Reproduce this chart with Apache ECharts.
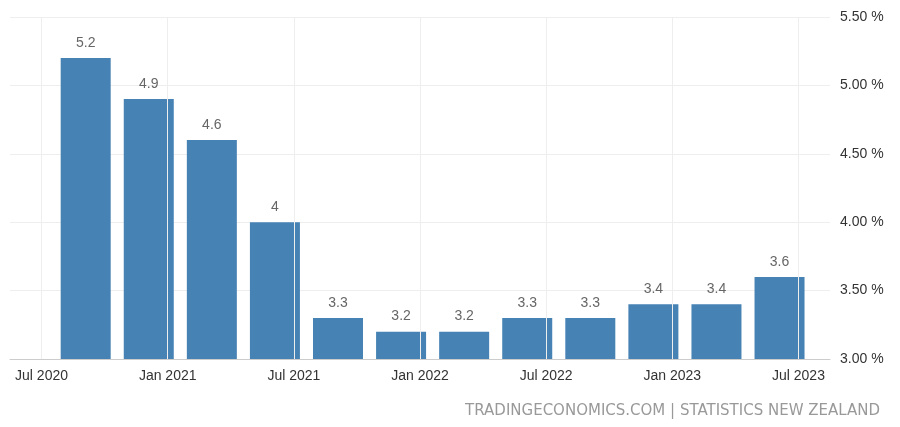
<!DOCTYPE html>
<html>
<head>
<meta charset="utf-8">
<script src="https://cdn.jsdelivr.net/npm/echarts@6/dist/echarts.min.js"></script>
<style>html,body{margin:0;padding:0;background:#fff}#main{width:900px;height:427px}</style>
</head>
<body>
<div id="main"></div>
<script>
// quarters, x position counted in quarters from Jul 2020
var quarterPos = [0.7, 1.7, 2.7, 3.7, 4.7, 5.7, 6.7, 7.7, 8.7, 9.7, 10.7, 11.7];
var rates = [5.2, 4.9, 4.6, 4.0, 3.3, 3.2, 3.2, 3.3, 3.3, 3.4, 3.4, 3.6];
var tickPos = [0, 2, 4, 6, 8, 10, 12];
var tickLabels = ["Jul 2020", "Jan 2021", "Jul 2021", "Jan 2022", "Jul 2022", "Jan 2023", "Jul 2023"];

var myChart = echarts.init(document.getElementById("main"));
var option = {
  animation: false,
  grid: { left: 10, right: 70, top: 17, bottom: 68 },
  xAxis: {
    type: "value",
    min: -0.5,
    max: 12.5,
    splitLine: { show: false },
    axisLine: { show: true, lineStyle: { color: "#ccc" } },
    axisTick: { show: false },
    axisLabel: {
      customValues: tickPos,
      formatter: function (v) { return tickLabels[tickPos.indexOf(v)] || ""; },
      color: "#333",
      fontSize: 14,
      margin: 10
    }
  },
  yAxis: {
    type: "value",
    position: "right",
    min: 3,
    max: 5.5,
    interval: 0.5,
    axisLine: { show: false },
    axisTick: { show: false },
    splitLine: { lineStyle: { color: "#eee" } },
    axisLabel: {
      color: "#333",
      fontSize: 14,
      margin: 10,
      formatter: function (v) { return v.toFixed(2) + " %"; }
    }
  },
  graphic: [{
    type: "text",
    right: 20,
    top: 404,
    style: { text: "TRADINGECONOMICS.COM | STATISTICS NEW ZEALAND", fill: "#999", fontSize: 15, fontFamily: "DejaVu Sans" }
  }],
  series: [{
    type: "bar",
    barWidth: 50,
    data: quarterPos.map(function (p, i) { return [p, rates[i]]; }),
    itemStyle: { color: "#4682B4" },
    label: {
      show: true,
      position: "top",
      color: "#666",
      fontSize: 14,
      distance: 8,
      formatter: function (p) { return String(p.value[1]); }
    },
    markLine: {
      silent: true,
      symbol: "none",
      label: { show: false },
      lineStyle: { color: "#eee", type: "solid", width: 1 },
      data: tickPos.map(function (t) { return { xAxis: t }; })
    }
  }]
};
myChart.setOption(option);
</script>
</body>
</html>
